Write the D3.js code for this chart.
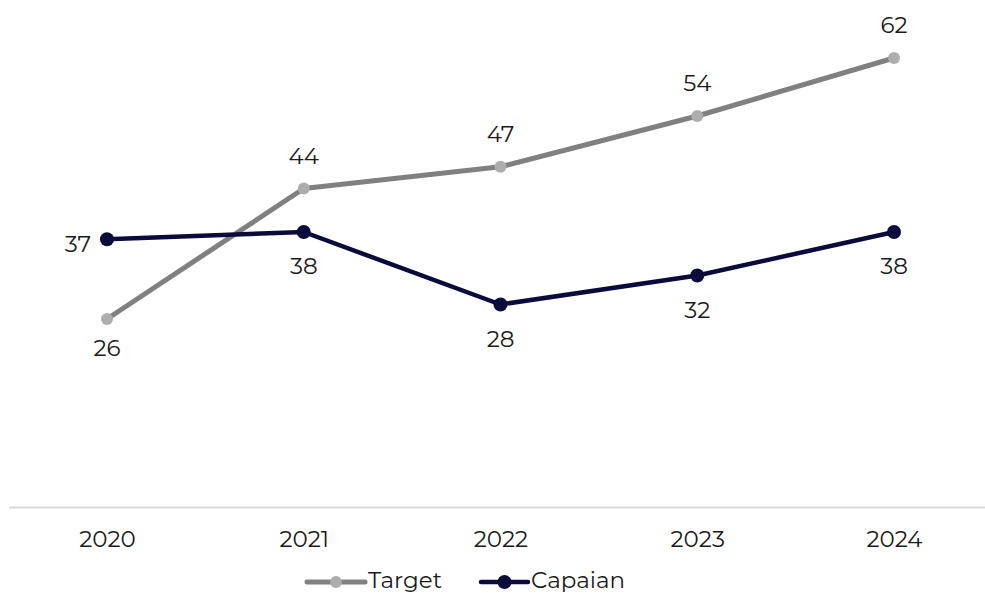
<!DOCTYPE html>
<html>
<head>
<meta charset="utf-8">
<script src="https://cdn.jsdelivr.net/npm/d3@7"></script>
<style>
  html, body { margin: 0; padding: 0; background: #ffffff; }
  svg { display: block; font-family: "Montserrat", "Noto Sans", "Open Sans", sans-serif; }
</style>
</head>
<body>
<svg id="chart" width="985" height="594"></svg>
<script>
// Yearly values for the two series
const years = ["2020", "2021", "2022", "2023", "2024"];
const targetValues = [26, 44, 47, 54, 62];
const capaianValues = [37, 38, 28, 32, 38];
const seriesNames = ["Target", "Capaian"];

// Label placement per point: "above", "below" or "left"
const targetLabelPos = ["below", "above", "above", "above", "above"];
const capaianLabelPos = ["left", "below", "below", "below", "below"];

const svg = d3.select("#chart");
const FONT = 23;

const x = d3.scalePoint().domain(years).range([107, 894]);
const y = d3.scaleLinear().domain([0, 70]).range([507.5, 0]);

// Category axis baseline
svg.append("line")
  .attr("x1", 9).attr("x2", 985)
  .attr("y1", y(0)).attr("y2", y(0))
  .attr("stroke", "#d9d9d9").attr("stroke-width", 2);

const xAxis = d3.axisBottom(x).tickSize(0).tickPadding(0);
const gx = svg.append("g").attr("transform", `translate(0,${y(0)})`).call(xAxis);
gx.select(".domain").remove();
gx.selectAll("text")
  .attr("dy", null)
  .attr("y", 39.5)
  .attr("font-size", FONT)
  .attr("font-family", "Montserrat, 'Noto Sans', 'Open Sans', sans-serif")
  .attr("fill", "#1a1a1a");

const series = [
  { name: seriesNames[0], values: targetValues, line: "#808080", dot: "#aeadad", width: 5, r: 6, pos: targetLabelPos, below: 37 },
  { name: seriesNames[1], values: capaianValues, line: "#0b0b3b", dot: "#0b0b3b", width: 4.5, r: 7, pos: capaianLabelPos, below: 42 }
];

const line = d3.line()
  .x((d, i) => x(years[i]))
  .y(d => y(d));

series.forEach(s => {
  svg.append("path")
    .datum(s.values)
    .attr("fill", "none")
    .attr("stroke", s.line)
    .attr("stroke-width", s.width)
    .attr("stroke-linejoin", "round")
    .attr("d", line);

  svg.append("g").selectAll("circle")
    .data(s.values)
    .join("circle")
    .attr("cx", (d, i) => x(years[i]))
    .attr("cy", d => y(d))
    .attr("r", s.r)
    .attr("fill", s.dot);

  svg.append("g").selectAll("text")
    .data(s.values)
    .join("text")
    .attr("x", (d, i) => s.pos[i] === "left" ? x(years[i]) - 16 : x(years[i]))
    .attr("y", (d, i) => {
      const p = s.pos[i];
      if (p === "above") return y(d) - 25;
      if (p === "below") return y(d) + s.below;
      return y(d) + 12.5;
    })
    .attr("text-anchor", (d, i) => s.pos[i] === "left" ? "end" : "middle")
    .attr("font-size", FONT)
    .attr("fill", "#1a1a1a")
    .text(d => d);
});

// Legend
const legendItems = [
  { s: series[0], x0: 307, x1: 365, tx: 368 },
  { s: series[1], x0: 481, x1: 528, tx: 531 }
];
const ly = 582;
legendItems.forEach(it => {
  svg.append("line")
    .attr("x1", it.x0).attr("x2", it.x1)
    .attr("y1", ly).attr("y2", ly)
    .attr("stroke", it.s.line)
    .attr("stroke-width", it.s.width)
    .attr("stroke-linecap", "round");
  svg.append("circle")
    .attr("cx", (it.x0 + it.x1) / 2).attr("cy", ly)
    .attr("r", it.s.r)
    .attr("fill", it.s.dot);
  svg.append("text")
    .attr("x", it.tx).attr("y", 588)
    .attr("font-size", FONT)
    .attr("fill", "#1a1a1a")
    .text(it.s.name);
});
</script>
</body>
</html>
